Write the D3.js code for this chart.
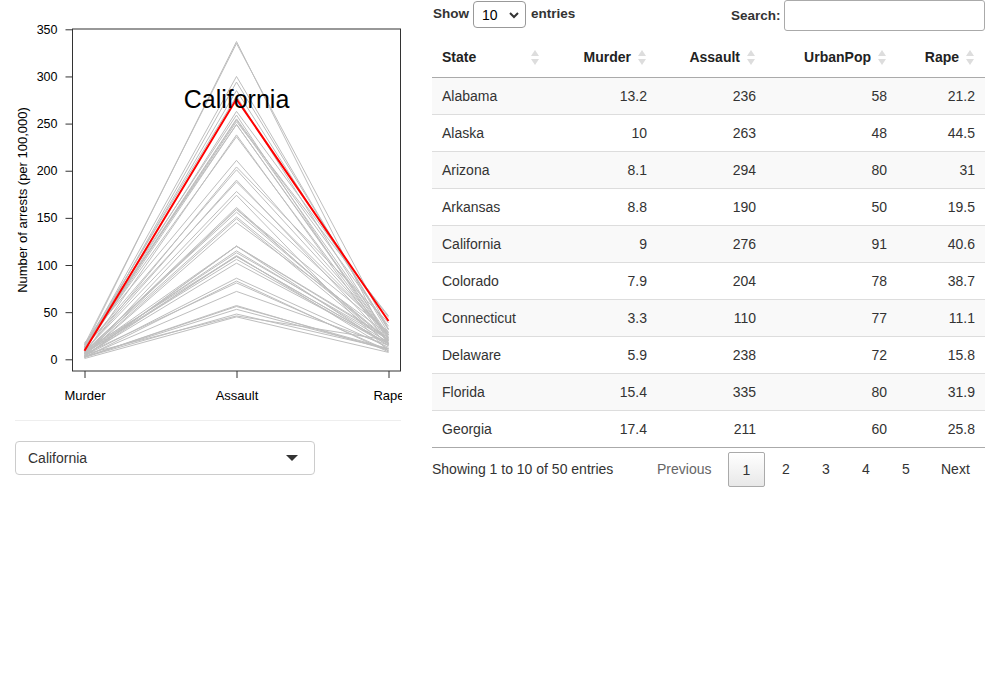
<!DOCTYPE html>
<html>
<head>
<meta charset="utf-8">
<title>USArrests</title>
<script src="https://cdn.jsdelivr.net/npm/d3@7"></script>
<style>
body{
margin:0;
background:white;
font-family:"Liberation Sans", Arial, Helvetica, sans-serif;
color:#333;
}
#plot{position:absolute;left:0;top:0;}
#hr{position:absolute;left:15px;top:420px;width:386px;border-top:1px solid #eee;}
.fakeselect{
position:absolute;box-sizing:border-box;border:1px solid #ccc;border-radius:4px;background:#fff;
font-size:14px;color:#333;
}
#stateSel{left:15px;top:441px;width:300px;height:34px;}
#stateSel span{position:absolute;left:12px;top:8px;}
#stateSel svg{position:absolute;right:16px;top:13px;}
#lenLabel{position:absolute;left:433px;top:6px;font-size:13.5px;font-weight:bold;color:#333;}
#lenSel{left:473px;top:1px;width:53px;height:27px;border-color:#999;}
#lenSel span{position:absolute;left:8px;top:5px;color:#000;}
#lenSel svg{position:absolute;right:6px;top:10px;}
#entries{position:absolute;left:531px;top:6px;font-size:13.5px;font-weight:bold;}
#searchLabel{position:absolute;left:731px;top:8px;font-size:13.5px;font-weight:bold;}
#searchBox{position:absolute;left:784px;top:0;width:201px;height:31px;box-sizing:border-box;border:1px solid #aaa;border-radius:3px;}
#tbl{position:absolute;left:432px;top:38px;width:553px;border-collapse:collapse;table-layout:fixed;font-size:14px;}
#tbl th{height:39px;padding:0 26px 0 10px;font-weight:bold;color:#222;text-align:right;position:relative;border-bottom:1px solid #aaa;box-sizing:border-box;}
#tbl th.first{text-align:left;}
#tbl th svg{position:absolute;right:11px;top:11px;}
#tbl td{height:36px;padding:0 10px;border-top:1px solid #ddd;text-align:right;color:#333;}
#tbl td.first{text-align:left;}
#tbl tbody tr:nth-child(odd){background:#f9f9f9;}
#tbl tbody tr:last-child td{border-bottom:1px solid #aaa;}
#info{position:absolute;left:432px;top:461px;font-size:14px;color:#333;}
#pager{position:absolute;top:452px;left:0;font-size:14px;}
.pg{position:absolute;top:0;height:35px;line-height:35px;box-sizing:border-box;text-align:center;color:#333;}
.pg.dis{color:#666;}
.pg.cur{border:1px solid #aaa;border-radius:2px;background:linear-gradient(#fff,#e8e8e8);}
</style>
</head>
<body>
<svg id="plot" width="402" height="420"></svg>
<div id="hr"></div>
<div id="stateSel" class="fakeselect"><span>California</span><svg width="12" height="7"><path d="M0,0L12,0L6,6Z" fill="#333"/></svg></div>

<div id="lenLabel">Show</div>
<div id="lenSel" class="fakeselect"><span>10</span><svg width="10" height="7"><path d="M1,1L5,5L9,1" fill="none" stroke="#333" stroke-width="2"/></svg></div>
<div id="entries">entries</div>
<div id="searchLabel">Search:</div>
<div id="searchBox"></div>
<table id="tbl"></table>
<div id="info">Showing 1 to 10 of 50 entries</div>
<div id="pager"></div>

<script>
// USArrests data, one array per column
var states = ["Alabama","Alaska","Arizona","Arkansas","California","Colorado","Connecticut","Delaware","Florida","Georgia",
  "Hawaii","Idaho","Illinois","Indiana","Iowa","Kansas","Kentucky","Louisiana","Maine","Maryland",
  "Massachusetts","Michigan","Minnesota","Mississippi","Missouri","Montana","Nebraska","Nevada","New Hampshire","New Jersey",
  "New Mexico","New York","North Carolina","North Dakota","Ohio","Oklahoma","Oregon","Pennsylvania","Rhode Island","South Carolina",
  "South Dakota","Tennessee","Texas","Utah","Vermont","Virginia","Washington","West Virginia","Wisconsin","Wyoming"];
var murder = [13.2,10,8.1,8.8,9,7.9,3.3,5.9,15.4,17.4,5.3,2.6,10.4,7.2,2.2,6,9.7,15.4,2.1,11.3,
  4.4,12.1,2.7,16.1,9,6,4.3,12.2,2.1,7.4,11.4,11.1,13,0.8,7.3,6.6,4.9,6.3,3.4,14.4,
  3.8,13.2,12.7,3.2,2.2,8.5,4,5.7,2.6,6.8];
var assault = [236,263,294,190,276,204,110,238,335,211,46,120,249,113,56,115,109,249,83,300,
  149,255,72,259,178,109,102,252,57,159,285,254,337,45,120,151,159,106,174,279,
  86,188,201,120,48,156,145,81,53,161];
var urbanPop = [58,48,80,50,91,78,77,72,80,60,83,54,83,65,57,66,52,66,51,67,
  85,74,66,44,70,53,62,81,56,89,70,86,45,44,75,68,67,72,87,48,
  45,59,80,80,32,63,73,39,66,60];
var rape = [21.2,44.5,31,19.5,40.6,38.7,11.1,15.8,31.9,25.8,20.2,14.2,24,21,11.3,18,16.3,22.2,7.8,27.8,
  16.3,35.1,14.9,17.1,28.2,16.4,16.5,46,9.5,18.8,32.1,26.1,16.1,7.3,21.4,20,29.3,14.9,8.3,22.5,
  12.8,26.9,25.5,22.9,11.2,20.7,26.2,9.3,10.8,15.6];
var crimes = ["Murder","Assault","Rape"];
var yTicks = [0,50,100,150,200,250,300,350];
var selected = "California";
var columns = ["State","Murder","Assault","UrbanPop","Rape"];
var colWidths = [118,107,109,131,88];
var pageLabels = ["Previous","1","2","3","4","5","Next"];

// ---- the line plot ----
var svg = d3.select("#plot");
var x = d3.scalePoint().domain(crimes).range([84.5, 388.5]);
var y = d3.scaleLinear().domain([0,350]).range([359.3, 29.3]);

var rows = states.map(function(s,i){
  return {state:s, values:[murder[i], assault[i], rape[i]]};
});
var line = d3.line()
  .x(function(v,i){ return x(crimes[i]); })
  .y(function(v){ return y(v); });

svg.append("g").selectAll("path")
  .data(rows).enter().append("path")
  .attr("d", function(d){ return line(d.values); })
  .attr("fill","none").attr("stroke","#bebebe").attr("stroke-width",1);

var sel = rows.filter(function(d){ return d.state == selected; })[0];
svg.append("path").attr("d", line(sel.values))
  .attr("fill","none").attr("stroke","#ff0000").attr("stroke-width",2);
svg.append("text").attr("x", x("Assault")).attr("y", y(sel.values[1]))
  .attr("dy","0.35em").attr("text-anchor","middle")
  .style("font-size","25px").style("font-family","Liberation Sans, Arial").attr("fill","#000")
  .text(selected);

// box
svg.append("rect").attr("x",72.5).attr("y",29).attr("width",328).attr("height",342)
  .attr("fill","none").attr("stroke","#333");

var yAxis = svg.append("g").attr("transform","translate(72.5,0)")
  .call(d3.axisLeft(y).tickValues(yTicks).tickSize(7).tickPadding(8));
var xAxis = svg.append("g").attr("transform","translate(0,371)")
  .call(d3.axisBottom(x).tickSize(7).tickPadding(13));
[yAxis, xAxis].forEach(function(g){
  g.select(".domain").remove();
  g.selectAll("line").attr("stroke","#333");
  g.selectAll("text").style("font-family","Liberation Sans, Arial").attr("fill","#000");
});
yAxis.selectAll("text").style("font-size","12.5px");
xAxis.selectAll("text").style("font-size","13px");
svg.append("text").attr("transform","translate(27,200) rotate(-90)")
  .attr("text-anchor","middle").style("font-size","13px").style("font-family","Liberation Sans, Arial")
  .text("Number of arrests (per 100,000)");

// ---- the table ----
var tbl = d3.select("#tbl");
tbl.append("colgroup").selectAll("col").data(colWidths).enter().append("col")
  .style("width", function(w){ return w+"px"; });
var th = tbl.append("thead").append("tr").selectAll("th")
  .data(columns).enter().append("th")
  .attr("class", function(c,i){ return i==0 ? "first" : null; })
  .text(function(c){ return c; });
var icon = th.append("svg").attr("width",8).attr("height",17);
icon.append("path").attr("d","M0,7L4,1L8,7Z").attr("fill","#ddd");
icon.append("path").attr("d","M0,10L4,16L8,10Z").attr("fill","#ddd");

var body = tbl.append("tbody");
var firstPage = d3.range(10).map(function(i){
  return [states[i], murder[i], assault[i], urbanPop[i], rape[i]];
});
body.selectAll("tr").data(firstPage).enter().append("tr")
  .selectAll("td").data(function(r){ return r; }).enter().append("td")
  .attr("class", function(v,i){ return i==0 ? "first" : null; })
  .text(function(v){ return v; });

// pagination
var pgX = [657, 728, 772, 812, 852, 892, 941];
var pgW = [0, 37, 28, 28, 28, 28, 0];
d3.select("#pager").selectAll("div").data(pageLabels).enter().append("div")
  .attr("class", function(p,i){ return "pg" + (i==0 ? " dis" : "") + (p=="1" ? " cur" : ""); })
  .style("left", function(p,i){ return pgX[i]+"px"; })
  .style("width", function(p,i){ return pgW[i] ? pgW[i]+"px" : null; })
  .style("padding", function(p,i){ return pgW[i] ? null : "0 10px 0 0"; })
  .text(function(p){ return p; });
</script>
</body>
</html>
